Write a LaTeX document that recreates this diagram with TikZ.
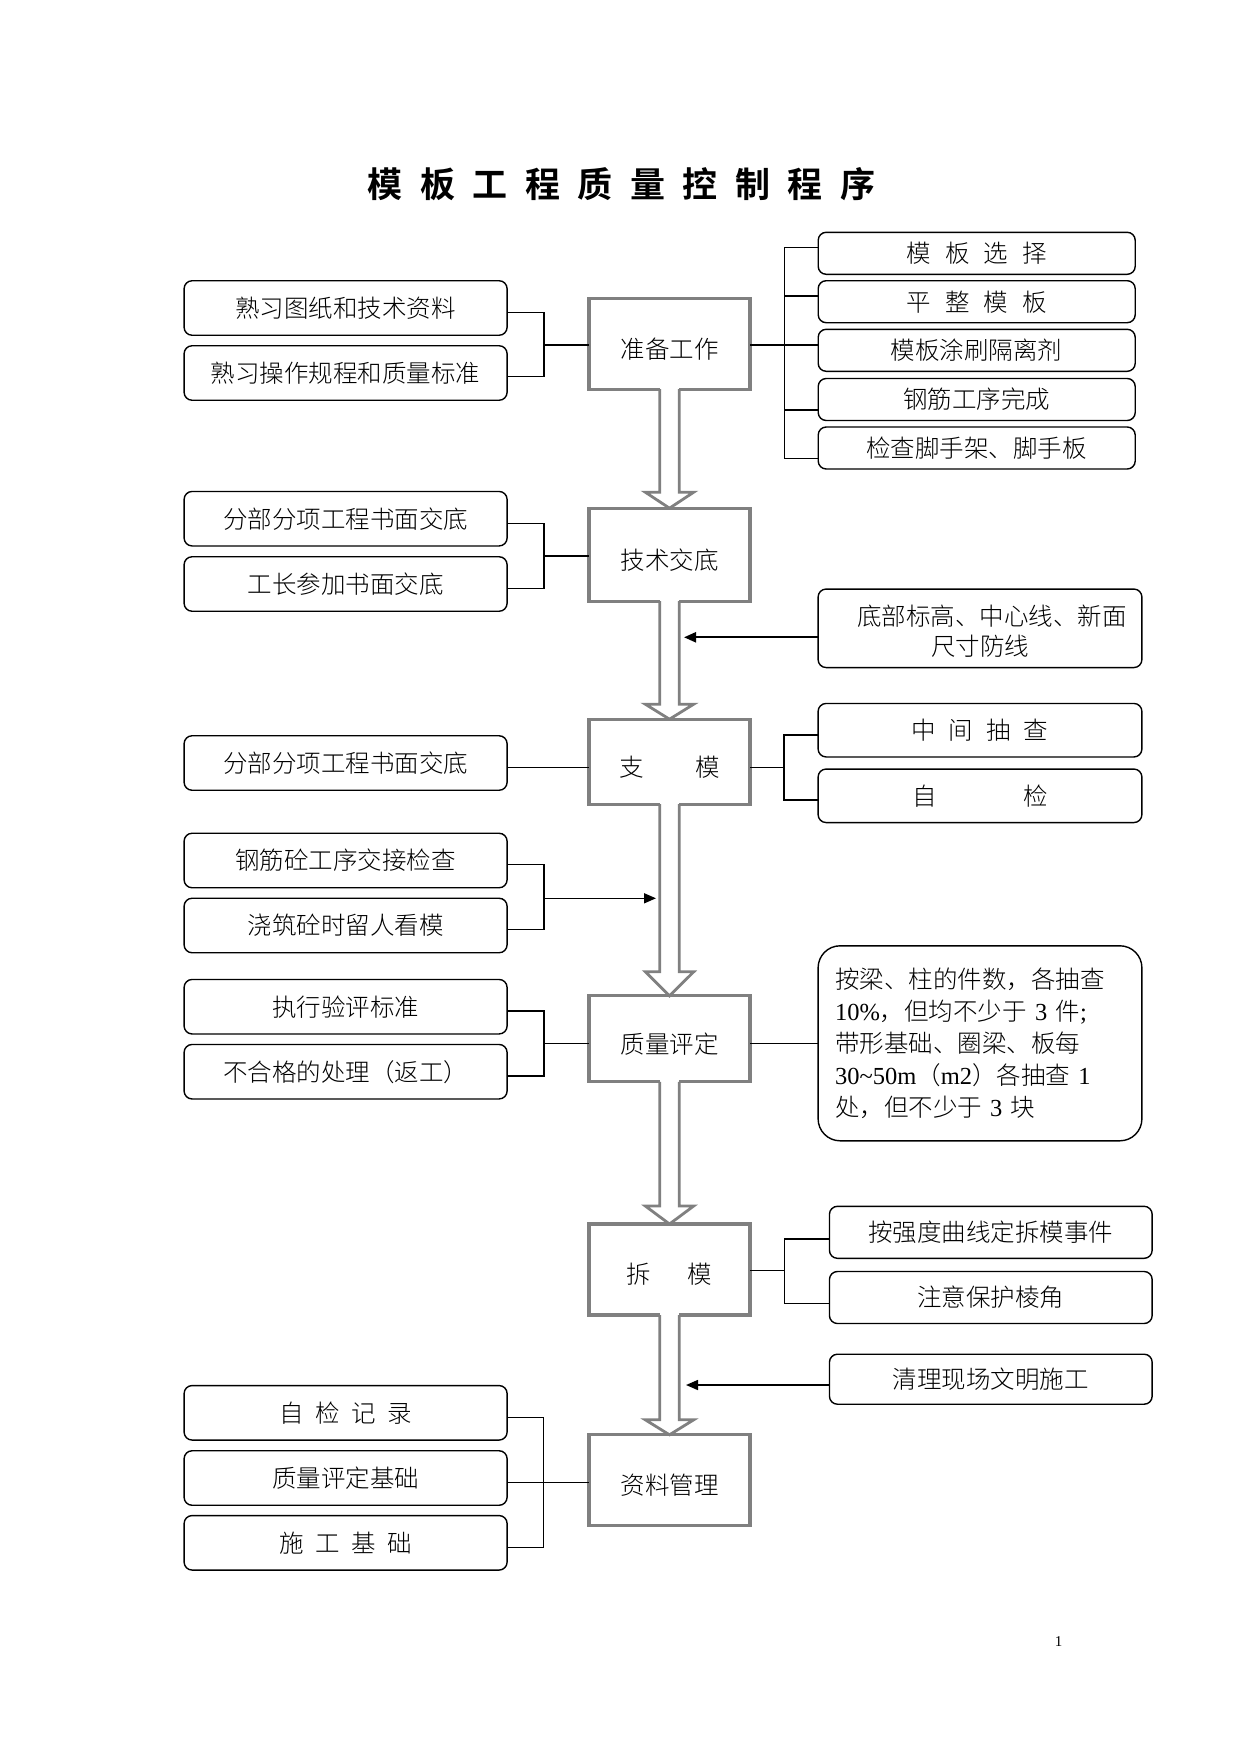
\documentclass[tikz,border=0pt]{standalone}
\usepackage{fontspec}
\setmainfont{Noto Sans CJK SC}[UprightFont={* Light},BoldFont={* Bold}]
\newfontfamily\lat{Liberation Serif}
\usetikzlibrary{arrows.meta,calc}
\definecolor{boxgray}{HTML}{808080}
\newcommand\boxfont{\fontsize{24.5}{31}\selectfont}
\newcommand\gap[1]{\hspace{#1em}}
\newcommand\low[1]{\raisebox{-5pt}[\height][\depth]{#1}}
\newcommand\lowr[1]{\raisebox{-3pt}[\height][\depth]{#1}}
\newcommand\hollowarrow[3]{%
  \fill[white] ($(#1.south)+(-9.8,-2)$) rectangle ($(#2.north)+(9.8,-#3)$);
  \draw[harrow] ($(#1.south)+(-9.8,0)$) -- ($(#2.north)+(-9.8,-#3)$) -- ($(#2.north)+(-24.2,-#3)$) -- (#2.north) -- ($(#2.north)+(24.2,-#3)$) -- ($(#2.north)+(9.8,-#3)$) -- ($(#1.south)+(9.8,0)$);
}
\tikzset{
  mainbox/.style={draw=boxgray, line width=3.2pt, minimum width=161pt, fill=white, inner sep=0pt, outer sep=0pt, font=\boxfont},
  lbox/.style={draw=black, line width=1.4pt, rounded corners=8pt, minimum width=323pt, minimum height=54.5pt, inner sep=0pt, outer sep=0pt, font=\boxfont},
  rboxa/.style={draw=black, line width=1.4pt, rounded corners=8pt, minimum width=317pt, minimum height=42pt, inner sep=0pt, outer sep=0pt, font=\boxfont},
  rbox/.style={draw=black, line width=1.4pt, rounded corners=8pt, minimum width=323.8pt, minimum height=53.5pt, inner sep=0pt, outer sep=0pt, font=\boxfont},
  rboxc/.style={draw=black, line width=1.4pt, rounded corners=8pt, minimum width=322.7pt, minimum height=52pt, inner sep=0pt, outer sep=0pt, font=\boxfont},
  harrow/.style={draw=boxgray, line width=2.8pt, line join=miter},
  conn/.style={draw=black, line width=1.5pt},
  thinconn/.style={draw=black, line width=0.9pt},
  blkarrow/.style={draw=black, line width=1.6pt, -{Triangle[length=12pt,width=10pt]}},
}
\begin{document}
\begin{tikzpicture}[x=1pt,y=-1pt]
\fill[white] (0,0) rectangle (1241,1755);
\useasboundingbox (0,0) rectangle (1241,1755);

% title
\node[font=\fontsize{35}{40}\selectfont\bfseries] (title) at (621.3,184)
  {模\gap{0.5}板\gap{0.5}工\gap{0.5}程\gap{0.5}质\gap{0.5}量\gap{0.5}控\gap{0.5}制\gap{0.5}程\gap{0.5}序};

% main column
\node[mainbox, minimum height=91pt] (m1) at (669.5,343.7) {\low{准备工作}};
\node[mainbox, minimum height=93pt] (m2) at (669.5,554.7) {\low{技术交底}};
\node[mainbox, minimum height=85pt] (m3) at (669.5,761.7) {\low{支\gap{2.1}模}};
\node[mainbox, minimum height=86pt] (m4) at (669.5,1038.8) {\low{质量评定}};
\node[mainbox, minimum height=91pt] (m5) at (669.5,1269.5) {\low{拆\gap{1.5}模}};
\node[mainbox, minimum height=91pt] (m6) at (669.5,1480.3) {\low{资料管理}};

\hollowarrow{m1}{m2}{16}
\hollowarrow{m2}{m3}{15}
\hollowarrow{m3}{m4}{24}
\hollowarrow{m4}{m5}{18}
\hollowarrow{m5}{m6}{15}

% left boxes
\node[lbox] (L1) at (345.6,308) {熟习图纸和技术资料};
\node[lbox] (L2) at (345.6,373) {熟习操作规程和质量标准};
\node[lbox] (L3) at (345.6,518.7) {分部分项工程书面交底};
\node[lbox] (L4) at (345.6,584) {工长参加书面交底};
\node[lbox] (L5) at (345.6,763) {分部分项工程书面交底};
\node[lbox] (L6) at (345.6,860.5) {钢筋砼工序交接检查};
\node[lbox] (L7) at (345.6,925.5) {浇筑砼时留人看模};
\node[lbox] (L8) at (345.6,1006.7) {执行验评标准};
\node[lbox] (L9) at (345.6,1071.7) {不合格的处理（返工）};
\node[lbox] (L10) at (345.6,1412.8) {自\gap{0.46}检\gap{0.46}记\gap{0.46}录};
\node[lbox] (L11) at (345.6,1478) {质量评定基础};
\node[lbox] (L12) at (345.6,1542.8) {施\gap{0.46}工\gap{0.46}基\gap{0.46}础};

% right boxes
\node[rboxa] (R1) at (976.7,253.3) {模\gap{0.57}板\gap{0.57}选\gap{0.57}择};
\node[rboxa] (R2) at (976.7,301.7) {平\gap{0.57}整\gap{0.57}模\gap{0.57}板};
\node[rboxa] (R3) at (976.7,350.3) {模板涂刷隔离剂};
\node[rboxa] (R4) at (976.7,399.5) {钢筋工序完成};
\node[rboxa] (R5) at (976.7,448) {检查脚手架、脚手板};
\node[rbox, minimum height=78.5pt, align=center, font=\fontsize{24.5}{30}\selectfont] (R6) at (980,628.3) {\lowr{\hspace*{24pt}底部标高、中心线、新面}\\\lowr{尺寸防线}};
\node[rbox] (R7) at (980,730.2) {中\gap{0.53}间\gap{0.53}抽\gap{0.53}查};
\node[rbox] (R8) at (980,795.8) {自\gap{3.55}检};
\node[rbox, rounded corners=22pt, minimum height=195pt, text width=290pt, align=left, font=\fontsize{24.5}{32}\selectfont] (R9) at (980,1043.3)
  {按梁、柱的件数，各抽查\\
   {\lat 10\%}，但均不少于{\lat\ 3 }件{\lat ;}\\
   带形基础、圈梁、板每\\
   {\lat 30\textasciitilde 50m}（{\lat m2}）各抽查{\lat\ 1}\\
   处，但不少于{\lat\ 3 }块};
\node[rboxc] (R10) at (990.8,1232.3) {按强度曲线定拆模事件};
\node[rboxc] (R11) at (990.8,1297.5) {注意保护棱角};
\node[rboxc, minimum height=50pt] (R12) at (990.8,1379.2) {清理现场文明施工};

% page number
\node[font=\lat\fontsize{15}{18}\selectfont] (pg) at (1058.6,1641.6) {1};

% left connectors
\coordinate (b1) at (543.9,345);
\draw[conn] ([yshift=-4.3pt]L1.east) -| (b1) |- ([yshift=-3.7pt]L2.east);
\draw[conn] (b1) -- (b1 -| m1.west);

\coordinate (b2) at (543.9,556);
\draw[conn] ([yshift=-4.6pt]L3.east) -| (b2) |- ([yshift=-4.3pt]L4.east);
\draw[conn] (b2) -- (b2 -| m2.west);

\coordinate (c5) at ([yshift=-4.3pt]L5.east);
\draw[thinconn] (c5) -- (c5 -| m3.west);

\coordinate (b3) at (543.9,898.3);
\coordinate (g3) at (656,898.3);
\draw[conn] ([yshift=-3.8pt]L6.east) -| (b3) |- ([yshift=-3.8pt]L7.east);
\draw[blkarrow] (b3) -- (g3);

\coordinate (b4) at (543.9,1043.3);
\draw[conn] ([yshift=-4.3pt]L8.east) -| (b4) |- ([yshift=-4.3pt]L9.east);
\draw[conn] (b4) -- (b4 -| m4.west);

\coordinate (b5) at (543.9,1482.7);
\draw[thinconn] ([yshift=-4.9pt]L10.east) -| (b5) |- ([yshift=-4.5pt]L12.east);
\draw[thinconn] ([yshift=-4.7pt]L11.east) -- (b5) -- (b5 -| m6.west);

% right connectors group A
\coordinate (a0) at (784.7,345);
\draw[conn] (m1.east |- a0) -- (a0);
\draw[conn] ([yshift=5.6pt]R1.west) -| (a0) |- ([yshift=-10.3pt]R5.west);
\coordinate (t2) at ([yshift=5.7pt]R2.west);
\coordinate (t3) at ([yshift=5.3pt]R3.west);
\coordinate (t4) at ([yshift=-10.5pt]R4.west);
\draw[conn] (t2) -- (t2 -| a0);
\draw[conn] (t3) -- (t3 -| a0);
\draw[conn] (t4) -- (t4 -| a0);

% R6 arrow
\coordinate (g6) at (684,637.3);
\draw[blkarrow, line width=2.2pt] ([yshift=-9pt]R6.west) -- (g6);

% group of support
\coordinate (a3) at (784.2,767.3);
\draw[conn] (m3.east |- a3) -- (a3);
\draw[conn] ([yshift=-4.8pt]R7.west) -| (a3) |- ([yshift=-4.2pt]R8.west);

% quality
\coordinate (a4) at (784,1043.3);
\draw[conn] (m4.east |- a4) -- (R9.west |- a4);

% dismantle group
\coordinate (a5) at (784.7,1270.7);
\draw[conn] (m5.east |- a5) -- (a5);
\draw[conn] ([yshift=-6.7pt]R10.west) -| (a5) |- ([yshift=-5.8pt]R11.west);

\coordinate (g12) at (686,1385);
\draw[blkarrow] ([yshift=-5.8pt]R12.west) -- (g12);
\end{tikzpicture}
\end{document}
